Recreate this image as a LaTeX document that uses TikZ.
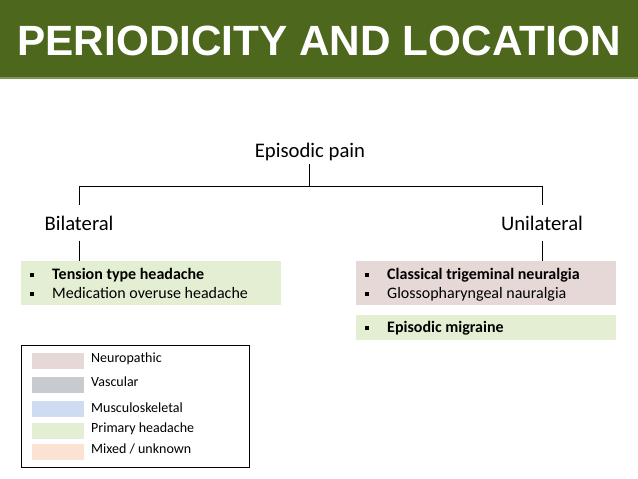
\documentclass[tikz,border=0pt]{standalone}
\usepackage{fontspec}
\setmainfont{Carlito}
\newfontfamily\headfont{Liberation Sans}
\definecolor{hdr}{RGB}{77,104,29}
\definecolor{hdrline}{RGB}{128,150,90}
\definecolor{primary}{RGB}{227,238,211}
\definecolor{neuro}{RGB}{231,216,216}
\definecolor{vasc}{RGB}{199,202,206}
\definecolor{musc}{RGB}{206,219,240}
\definecolor{mixed}{RGB}{251,227,211}
\tikzset{
  lvl/.style={font=\fontsize{20.7}{24}\selectfont, inner xsep=2pt, anchor=base},
  catbox/.style={draw=none, anchor=north west, inner sep=0pt},
  item/.style={font=\fontsize{16}{19}\selectfont, anchor=base west, inner sep=0pt},
  swatch/.style={draw=none, anchor=north west, inner sep=0pt, minimum width=52pt, minimum height=16pt},
  legtext/.style={font=\fontsize{14}{17}\selectfont, anchor=base west, inner sep=0pt},
  conn/.style={draw=black, line width=0.8pt}
}
\newcommand{\bul}{\raisebox{2pt}{\rule{4pt}{4pt}}\hspace{18pt}}
\begin{document}
\begin{tikzpicture}[x=1pt,y=-1pt]
\useasboundingbox (0,0) rectangle (638,479);
% header
\fill[hdr] (0,0) rectangle (638,77);
\fill[hdrline] (0,77) rectangle (638,79);
\node[font=\headfont\bfseries\fontsize{42.3}{48}\selectfont, text=white, anchor=base] (title) at (319,55) {PERIODICITY AND LOCATION};
% levels
\node[lvl, inner ysep=3pt] (ep) at (310,157) {Episodic pain};
\node[lvl, inner ysep=10.5pt] (bi) at (79,230) {Bilateral};
\node[lvl, inner ysep=10.5pt] (un) at (542,230) {Unilateral};
\coordinate (j) at (309,186);
\draw[conn] (ep.south -| j) -- (j);
\draw[conn] (j) -| (bi.north);
\draw[conn] (j) -| (un.north);
% boxes
\node[catbox, fill=primary, minimum width=260pt, minimum height=44pt] (bl) at (21,261) {};
\node[catbox, fill=neuro, minimum width=260pt, minimum height=44pt] (ur) at (356,261) {};
\node[catbox, fill=primary, minimum width=260pt, minimum height=25pt] (em) at (356,315) {};
\draw[conn] (bi.south) -- (bi.south |- bl.north);
\draw[conn] (un.south) -- (un.south |- ur.north);
% items
\node[item] (t1) at (30,279) {\bul\textbf{Tension type headache}};
\node[item] (t2) at (30,298) {\bul Medication overuse headache};
\node[item] (t3) at (365,279) {\bul\textbf{Classical trigeminal neuralgia}};
\node[item] (t4) at (365,298) {\bul Glossopharyngeal nauralgia};
\node[item] (t5) at (365,332) {\bul\textbf{Episodic migraine}};
% legend
\node[draw=black, line width=0.8pt, anchor=north west, inner sep=0pt, minimum width=228pt, minimum height=122pt] (leg) at (21,345) {};
\node[swatch, fill=neuro] (s1) at (32,353) {};
\node[swatch, fill=vasc] (s2) at (32,377) {};
\node[swatch, fill=musc] (s3) at (32,401) {};
\node[swatch, fill=primary] (s4) at (32,423) {};
\node[swatch, fill=mixed] (s5) at (32,444) {};
\node[legtext] (l1) at (91,362) {Neuropathic};
\node[legtext] (l2) at (91,386) {Vascular};
\node[legtext] (l3) at (91,412) {Musculoskeletal};
\node[legtext] (l4) at (91,432) {Primary headache};
\node[legtext] (l5) at (91,453) {Mixed / unknown};
\end{tikzpicture}
\end{document}
